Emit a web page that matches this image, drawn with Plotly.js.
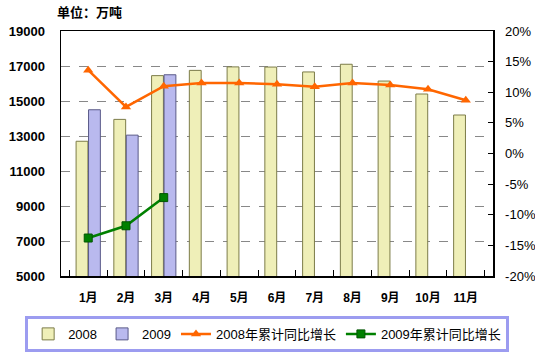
<!DOCTYPE html>
<html><head><meta charset="utf-8">
<script src="https://cdn.plot.ly/plotly-3.0.1.min.js"></script>
<style>html,body{margin:0;padding:0;background:#fff}#c{width:535px;height:354px}</style>
</head><body><div id="c"></div>
<script>
const months = ["1月","2月","3月","4月","5月","6月","7月","8月","9月","10月","11月"];
const vol2008 = [12700,13950,16450,16750,16950,16940,16660,17100,16140,15400,14200];
const months2009 = ["1月","2月","3月"];
const vol2009 = [14500,13050,16500];
const growth2008 = [13.6,7.6,11.0,11.5,11.5,11.3,10.9,11.5,11.2,10.5,8.7];
const growth2009 = [-13.8,-11.8,-7.2];
const leftTicks = [5000,7000,9000,11000,13000,15000,17000,19000];
const rightTicks = [-20,-15,-10,-5,0,5,10,15,20];

const F = "Liberation Sans, Arial, Noto Sans CJK SC, sans-serif";
const data = [
  {type:"bar", name:"2008", x:months, y:vol2008,
   marker:{color:"#efefb8", line:{color:"#7c7c48", width:1}}},
  {type:"bar", name:"2009", x:months2009, y:vol2009,
   marker:{color:"#b9b9ee", line:{color:"#5a5a88", width:1}}},
  {type:"scatter", mode:"lines+markers", name:"2008年累计同比增长", x:months, y:growth2008, yaxis:"y2",
   line:{color:"#ff6600", width:2.5}, marker:{symbol:"triangle-up", size:9, color:"#ff6600"}},
  {type:"scatter", mode:"lines+markers", name:"2009年累计同比增长", x:months2009, y:growth2009, yaxis:"y2",
   line:{color:"#008000", width:2.5}, marker:{symbol:"square", size:8, color:"#008000", line:{color:"#005500",width:1}}}
];
const layout = {
  width:535, height:354,
  margin:{l:61, r:42, t:31, b:78, autoexpand:false},
  paper_bgcolor:"#fff", plot_bgcolor:"#fff",
  font:{family:F, size:12, color:"#000"},
  barmode:"group", bargap:0.34, bargroupgap:0.05,
  showlegend:true,
  legend:{orientation:"h", xref:"paper", yref:"paper", x:-0.083, xanchor:"left", y:-0.163, yanchor:"top",
    bordercolor:"#9c9cf0", borderwidth:3, bgcolor:"#fff",
    font:{family:F, size:13}, traceorder:"normal", itemwidth:30, tracegroupgap:0},
  xaxis:{type:"category", categoryarray:months, showline:true, linecolor:"#000", linewidth:1.5,
    mirror:true, ticks:"inside", tickson:"boundaries", ticklen:6, tickcolor:"#000", automargin:false,
    tickfont:{family:F, size:12, color:"#000", weight:"bold"}, ticklabelstandoff:10},
  yaxis:{range:[5000,19000], tickvals:leftTicks, ticktext:leftTicks.map(String), showline:true, linecolor:"#000", linewidth:1.5,
    showgrid:true, gridcolor:"#888", griddash:"dash", gridwidth:1, zeroline:false, ticks:"", automargin:false,
    tickfont:{family:F, size:13, color:"#000", weight:"bold"}, ticklabelstandoff:12},
  yaxis2:{overlaying:"y", side:"right", range:[-20,20], tickvals:rightTicks, automargin:false,
    ticktext:rightTicks.map(v=>v+"%"), showgrid:false, zeroline:false, showline:true,
    linecolor:"#000", linewidth:1.5, ticks:"inside", ticklen:5, tickcolor:"#000",
    tickfont:{family:F, size:13, color:"#000"}, ticklabelstandoff:8},
  annotations:[{text:"单位：万吨", xref:"paper", yref:"paper", x:-0.015, y:1.078,
    xanchor:"left", yanchor:"middle", showarrow:false,
    font:{family:"Noto Sans CJK SC, sans-serif", size:13, color:"#000", weight:"bold"}}]
};
Plotly.newPlot("c", data, layout, {displayModeBar:false, staticPlot:true});
</script></body></html>
